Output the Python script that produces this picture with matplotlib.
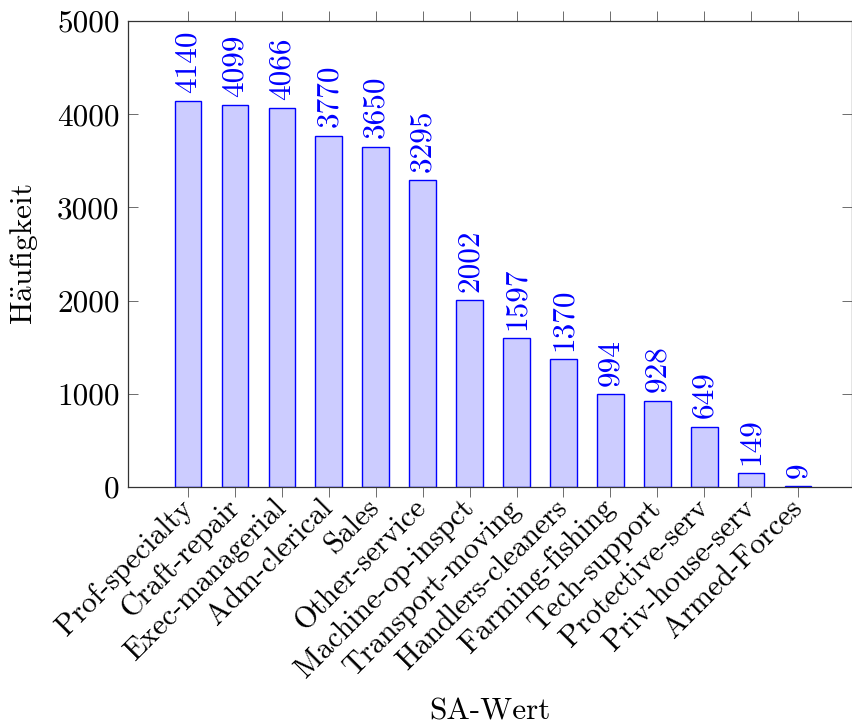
import matplotlib
matplotlib.use("Agg")
import matplotlib.pyplot as plt

plt.rcParams['font.family'] = ['cmr10', 'DejaVu Serif']
plt.rcParams['mathtext.fontset'] = 'cm'
plt.rcParams['axes.formatter.use_mathtext'] = True

categories = ["Prof-specialty", "Craft-repair", "Exec-managerial", "Adm-clerical",
              "Sales", "Other-service", "Machine-op-inspct", "Transport-moving",
              "Handlers-cleaners", "Farming-fishing", "Tech-support",
              "Protective-serv", "Priv-house-serv", "Armed-Forces"]
counts = [4140, 4099, 4066, 3770, 3650, 3295, 2002, 1597, 1370, 994, 928, 649, 149, 9]
yticks = [0, 1000, 2000, 3000, 4000, 5000]

FS = 22.5

fig = plt.figure(figsize=(8.53, 7.27), dpi=100)
ax = fig.add_axes([128/853, 1 - 487/727, (852 - 128)/853, (487 - 21)/727])

x = list(range(len(categories)))
ax.bar(x, counts, width=0.57, color=(0.8, 0.8, 1.0), edgecolor='blue', linewidth=1.0)

for xi, v in zip(x, counts):
    ax.annotate(str(v), (xi, v), xytext=(0, 6), textcoords='offset points',
                rotation=90, ha='center', va='bottom', color='blue', fontsize=FS)

ax.set_xlim(-1.28, len(categories) - 1 + 1.15)
ax.set_ylim(0, 5000)
ax.set_yticks(yticks)
ax.set_yticklabels([str(t) for t in yticks], fontsize=FS)
ax.set_xticks(x)
ax.set_xticklabels(categories, rotation=45, ha='right', va='center',
                   rotation_mode='anchor', fontsize=21.5)

ax.tick_params(axis='x', direction='out', length=7, width=0.6, color='#555555',
               top=True, bottom=True, pad=5)
ax.tick_params(axis='y', direction='in', length=7, width=0.6, color='#555555',
               left=True, right=True, pad=6)
for s in ax.spines.values():
    s.set_linewidth(0.9)
    s.set_color('#333333')

ax.set_ylabel(r'H$\ddot{\mathrm{a}}$ufigkeit', fontsize=FS, labelpad=12)
fig.text(490/853, 1 - 712/727, 'SA-Wert', ha='center', va='center', fontsize=FS)

fig.savefig('out.png', dpi=100)
